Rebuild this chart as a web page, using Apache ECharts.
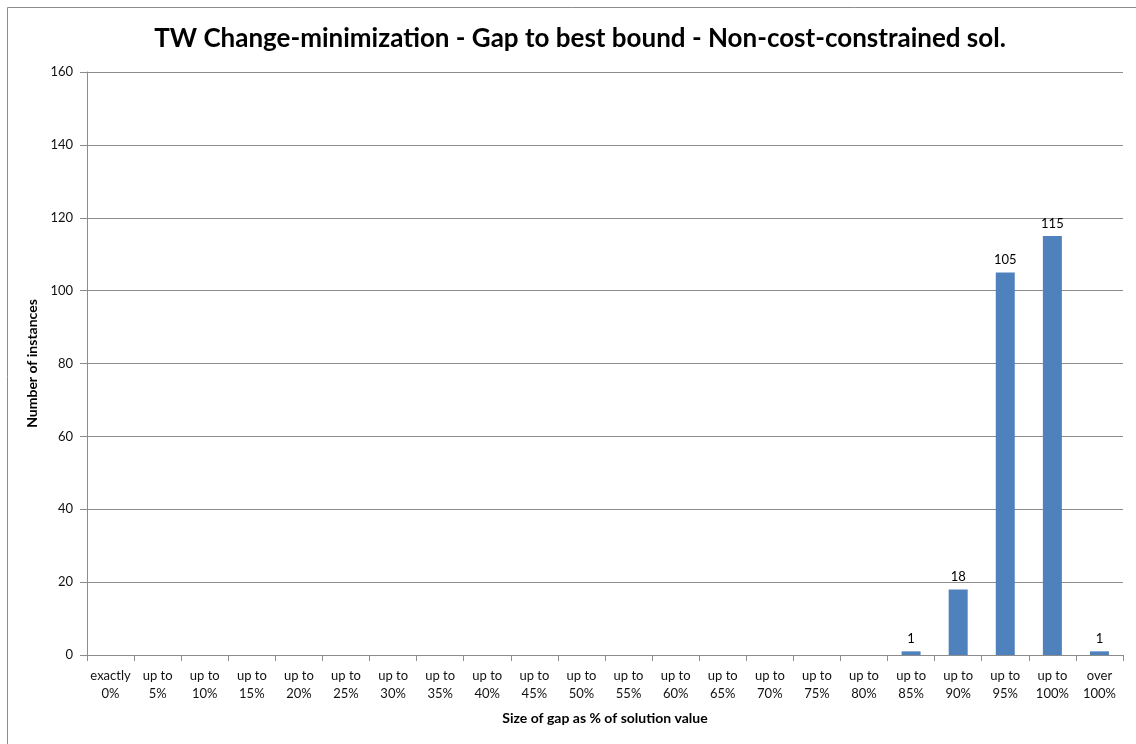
<!DOCTYPE html>
<html>
<head>
<meta charset="utf-8">
<script src="https://cdn.jsdelivr.net/npm/echarts@6/dist/echarts.min.js"></script>
<style>
  html, body { margin: 0; padding: 0; background: #fff; }
  #chart { width: 1136px; height: 744px; }
</style>
</head>
<body>
<div id="chart"></div>
<script>
// Gap buckets (x axis) and instance counts per bucket
const categories = [
  'exactly\n0%', 'up to\n5%', 'up to\n10%', 'up to\n15%', 'up to\n20%', 'up to\n25%',
  'up to\n30%', 'up to\n35%', 'up to\n40%', 'up to\n45%', 'up to\n50%', 'up to\n55%',
  'up to\n60%', 'up to\n65%', 'up to\n70%', 'up to\n75%', 'up to\n80%', 'up to\n85%',
  'up to\n90%', 'up to\n95%', 'up to\n100%', 'over\n100%'
];
const instances = [0, 0, 0, 0, 0, 0, 0, 0, 0, 0, 0, 0, 0, 0, 0, 0, 0, 1, 18, 105, 115, 1];
const yTicks = { min: 0, max: 160, interval: 20 };

const font = 'Lato, "Open Sans", sans-serif';
const chart = echarts.init(document.getElementById('chart'));

chart.setOption({
  animation: false,
  backgroundColor: '#fff',
  graphic: [{
    type: 'rect',
    shape: { x: 7.5, y: 7.5, width: 1140, height: 760 },
    style: { fill: 'none', stroke: '#8c8c8c', lineWidth: 1 },
    silent: true
  }],
  title: {
    text: 'TW Change-minimization - Gap to best bound - Non-cost-constrained sol.',
    left: 575,
    textAlign: 'center',
    top: 21,
    textStyle: { fontFamily: font, fontSize: 26, fontWeight: 'bold', color: '#000' }
  },
  grid: { left: 87, right: 13, top: 72, bottom: 89 },
  xAxis: {
    type: 'category',
    data: categories,
    name: 'Size of gap as % of solution value',
    nameLocation: 'middle',
    nameGap: 56,
    nameTextStyle: { fontFamily: font, fontSize: 14, fontWeight: 'bold', color: '#000' },
    axisLine: { lineStyle: { color: '#8c8c8c', width: 1 } },
    axisTick: { show: true, length: 6, alignWithLabel: false, lineStyle: { color: '#8c8c8c' } },
    axisLabel: { interval: 0, fontFamily: font, fontSize: 13, color: '#111', lineHeight: 18, margin: 12 }
  },
  yAxis: {
    type: 'value',
    min: yTicks.min,
    max: yTicks.max,
    interval: yTicks.interval,
    name: 'Number of instances',
    nameLocation: 'middle',
    nameGap: 42,
    nameTextStyle: { fontFamily: font, fontSize: 14, fontWeight: 'bold', color: '#000' },
    axisLine: { show: true, lineStyle: { color: '#8c8c8c', width: 1 } },
    axisTick: { show: true, length: 7, lineStyle: { color: '#8c8c8c' } },
    axisLabel: { fontFamily: font, fontSize: 13, color: '#111', margin: 14 },
    splitLine: { show: true, lineStyle: { color: '#8c8c8c', width: 1 } }
  },
  series: [{
    type: 'bar',
    data: instances,
    barWidth: 19,
    itemStyle: { color: '#4f81bd' },
    label: {
      show: true,
      position: 'top',
      distance: 6,
      fontFamily: font,
      fontSize: 13,
      color: '#000',
      formatter: p => (p.value > 0 ? String(p.value) : '')
    }
  }]
});
</script>
</body>
</html>
